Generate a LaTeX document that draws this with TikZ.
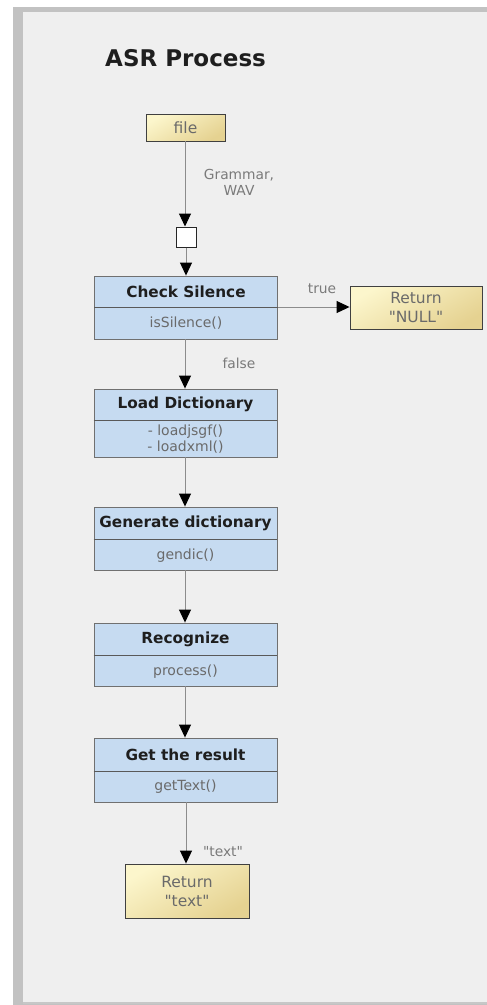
\documentclass[tikz,border=0pt]{standalone}
\usepackage{fontspec}
\setmainfont{DejaVu Sans}[Ligatures=TeXOff]
\usetikzlibrary{arrows.meta,positioning}
\definecolor{bg}{HTML}{EFEFEF}
\definecolor{frame}{HTML}{C2C2C2}
\definecolor{boxblue}{HTML}{C6DBF1}
\definecolor{boxedge}{HTML}{707070}
\definecolor{yelA}{HTML}{FCF6CC}
\definecolor{yelB}{HTML}{E5D291}
\definecolor{headtxt}{HTML}{1E1E1E}
\definecolor{bodytxt}{HTML}{6A6A6A}
\definecolor{lbltxt}{HTML}{7A7A7A}
\definecolor{wire}{HTML}{8C8C8C}
\tikzset{
  procbox/.style={draw=boxedge, line width=0.9pt, fill=boxblue, minimum width=183pt, inner sep=0pt},
  retbox/.style={draw=black!75, line width=0.9pt, top color=yelA, bottom color=yelB, shading angle=30, inner sep=0pt, align=center, text=bodytxt, font=\fontsize{15.5}{19}\selectfont},
  headtext/.style={text=headtxt, font=\bfseries\fontsize{15.3}{17}\selectfont, inner sep=0pt},
  bodytext/.style={text=bodytxt, font=\fontsize{14}{16}\selectfont, inner sep=0pt, align=center},
  lbl/.style={text=lbltxt, font=\fontsize{13.8}{16}\selectfont, inner sep=0pt, align=center},
  flow/.style={draw=wire, line width=1pt, -{Triangle[width=12pt,length=13pt,color=black]}},
  divider/.style={draw=black!65, line width=0.9pt}
}
\begin{document}
\begin{tikzpicture}[x=1pt,y=-1pt]
\useasboundingbox (0,0) rectangle (487,1005);
% background frame
\fill[white] (0,0) rectangle (487,1005);
\fill[frame] (13,7) rectangle (487,1005);
\fill[bg] (23,12) rectangle (487,1002);
\fill[black!22] (23,1002) rectangle (487,1004);
% title
\node[anchor=west, inner sep=0pt, font=\bfseries\fontsize{23}{26}\selectfont, text=headtxt] (title) at (105,58) {ASR Process};
% file
\node[retbox, minimum width=79pt, minimum height=27pt] (file) at (185.5,127.5) {file};
% small square
\node[draw=black!85, fill=white, line width=1pt, minimum width=20pt, minimum height=20pt, inner sep=0pt] (sq) at (186,237) {};
% process boxes
\node[procbox, minimum height=63pt] (cs) at (186,307.5) {};
\node[procbox, minimum height=68pt] (ld) at (185.5,423) {};
\node[procbox, minimum height=63pt] (gd) at (185.5,538.5) {};
\node[procbox, minimum height=63pt] (rc) at (185.5,654.5) {};
\node[procbox, minimum height=64pt] (gr) at (185.5,770) {};
% dividers
\draw[divider] (cs.west |- 0,307) -- (cs.east |- 0,307);
\draw[divider] (ld.west |- 0,420) -- (ld.east |- 0,420);
\draw[divider] (gd.west |- 0,539) -- (gd.east |- 0,539);
\draw[divider] (rc.west |- 0,655) -- (rc.east |- 0,655);
\draw[divider] (gr.west |- 0,771) -- (gr.east |- 0,771);
% texts in boxes
\node[headtext] (csh) at (186,291.5) {Check Silence};
\node[bodytext] (csb) at (186,323.5) {isSilence()};
\node[headtext] (ldh) at (185.5,404.5) {Load Dictionary};
\node[bodytext] (ldb) at (185.5,439) {- loadjsgf()\\- loadxml()};
\node[headtext] (gdh) at (185.5,523.5) {Generate dictionary};
\node[bodytext] (gdb) at (185.5,555.5) {gendic()};
\node[headtext] (rch) at (185.5,639) {Recognize};
\node[bodytext] (rcb) at (185.5,671.5) {process()};
\node[headtext] (grh) at (185.5,754.5) {Get the result};
\node[bodytext] (grb) at (185.5,787) {getText()};
% return boxes
\node[retbox, minimum width=132pt, minimum height=43pt] (rnull) at (416,307.5) {Return\\"NULL"};
\node[retbox, minimum width=124pt, minimum height=54pt] (rtext) at (187,891) {Return\\"text"};
% connectors
\draw[flow] (file.south -| 185,0) -- (sq.north -| 185,0);
\draw[flow] (sq.south -| 186,0) -- (cs.north -| 186,0);
\draw[flow] (cs.east |- 0,307) -- (rnull.west |- 0,307);
\draw[flow] (cs.south -| 185,0) -- (ld.north -| 185,0);
\draw[flow] (ld.south -| 185,0) -- (gd.north -| 185,0);
\draw[flow] (gd.south -| 185,0) -- (rc.north -| 185,0);
\draw[flow] (rc.south -| 185,0) -- (gr.north -| 185,0);
\draw[flow] (gr.south -| 186,0) -- (rtext.north -| 186,0);
% labels
\node[lbl] (l1) at (239,182) {Grammar,\\WAV};
\node[lbl] (l2) at (322,289) {true};
\node[lbl] (l3) at (239,363) {false};
\node[lbl] (l4) at (223,852) {"text"};
\end{tikzpicture}
\end{document}
